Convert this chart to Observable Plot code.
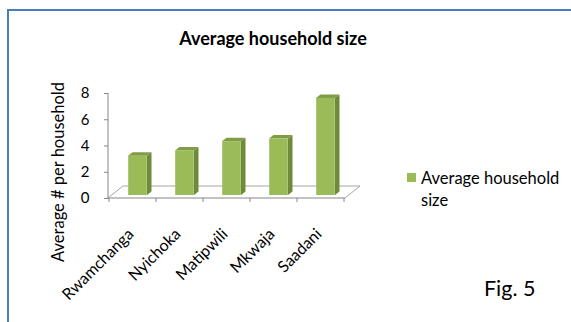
<!DOCTYPE html>
<html><head><meta charset="utf-8">
<script src="https://cdn.jsdelivr.net/npm/d3@7"></script>
<script src="https://cdn.jsdelivr.net/npm/@observablehq/plot@0.6"></script>
<style>
body{margin:0;background:#fff;}
#wrap{position:relative;width:571px;height:322px;overflow:hidden;font-family:Lato,sans-serif;color:#000;}
#frame{position:absolute;left:7px;top:9px;width:700px;height:500px;border-top:2px solid #4a7ebb;border-left:2px solid #4a7ebb;}
#title{position:absolute;left:0;width:546px;top:28px;text-align:center;font-weight:bold;font-size:18px;line-height:20px;}
#chart{position:absolute;left:0;top:0;}
#legend{position:absolute;left:407px;top:167px;font-size:16.5px;line-height:22px;}
#legend .sw{position:absolute;left:0;top:6px;width:9px;height:9px;}
#legend .txt{position:absolute;left:14px;top:0;white-space:nowrap;}
#fig{position:absolute;left:484px;top:277px;font-size:21.5px;line-height:22px;}
</style></head>
<body>
<div id="wrap">
  <div id="frame"></div>
  <div id="title"></div>
  <div id="chart"></div>
  <div id="legend"><div class="sw"></div><div class="txt"></div></div>
  <div id="fig"></div>
</div>
<script>
const categories = ["Rwamchanga", "Nyichoka", "Matipwili", "Mkwaja", "Saadani"];
const values = [3.0, 3.4, 4.1, 4.3, 7.4];
const yTicks = [0, 2, 4, 6, 8];
const seriesName = "Average household size";
const chartTitle = "Average household size";
const yLabel = "Average # per household";
const figLabel = "Fig. 5";

const data = categories.map((c, i) => ({category: c, value: values[i]}));

const W = 571, H = 322;
const mL = 108, mR = 226, mT = 93, mB = 124;
const barW = 19, barDx = 5, barDy = -3, depthX = 4.5, depthY = -3.5;
const floorDx = 15, floorDy = -12;
const cFront = "#9bbb59", cSide = "#6f8a3b", cTop = "#7f9d47";
const bandW = (W - mL - mR) / categories.length;
const inset = (bandW - barW) / 2;

function floorMark(index, scales) {
  const x = scales.x, y = scales.y;
  const g = d3.create("svg:g");
  const [x0, x1] = x.range();
  const y0 = y(0);
  g.append("path")
    .attr("d", `M${x0},${y0}L${x0 + floorDx},${y0 + floorDy}L${x1 + floorDx},${y0 + floorDy}L${x1},${y0}`)
    .attr("fill", "none").attr("stroke", "#a6a6a6");
  g.append("line").attr("x1", x0).attr("x2", x1).attr("y1", y0).attr("y2", y0).attr("stroke", "#868686");
  g.append("line").attr("x1", x0).attr("x2", x0).attr("y1", y(yTicks[yTicks.length - 1])).attr("y2", y0).attr("stroke", "#868686");
  const bw = x.bandwidth();
  const edges = categories.map(c => x(c)).concat([x(categories[categories.length - 1]) + bw]);
  for (const e of edges) {
    g.append("line").attr("x1", e).attr("x2", e).attr("y1", y0).attr("y2", y0 + 4).attr("stroke", "#868686");
  }
  return g.node();
}

function depthMark(index, scales) {
  const x = scales.x, y = scales.y;
  const g = d3.create("svg:g");
  const bw = x.bandwidth();
  for (const d of data) {
    const bx0 = x(d.category) + (bw - barW) / 2 + barDx;
    const bx1 = bx0 + barW;
    const yt = y(d.value) + barDy;
    const yb = y(0) + barDy;
    g.append("path")
      .attr("d", `M${bx0},${yt}L${bx0 + depthX},${yt + depthY}L${bx1 + depthX},${yt + depthY}L${bx1},${yt}Z`)
      .attr("fill", cTop);
    g.append("path")
      .attr("d", `M${bx1},${yt}L${bx1 + depthX},${yt + depthY}L${bx1 + depthX},${yb + depthY}L${bx1},${yb}Z`)
      .attr("fill", cSide);
  }
  return g.node();
}

const chart = Plot.plot({
  width: W, height: H,
  marginLeft: mL, marginRight: mR, marginTop: mT, marginBottom: mB,
  style: {fontFamily: "Lato, sans-serif", fontSize: "15px", color: "#000", background: "transparent"},
  x: {domain: categories, padding: 0, axis: null},
  y: {domain: [0, 8], axis: null},
  marks: [
    floorMark,
    depthMark,
    Plot.barY(data, {x: "category", y: "value", fill: cFront, insetLeft: inset, insetRight: inset, dx: barDx, dy: barDy}),
    Plot.axisY(yTicks, {tickSize: 4, tickPadding: 15, fontSize: 15, label: null, stroke: "#868686", fill: "#000"}),
    Plot.text(categories, {x: d => d, frameAnchor: "bottom", rotate: -45, textAnchor: "end", lineAnchor: "middle", dx: -2, dy: 33, fontSize: 16, fill: "#000"}),
    Plot.text([yLabel], {frameAnchor: "left", rotate: -90, textAnchor: "middle", dx: -50, dy: 26, fontSize: 16.5, fill: "#000"})
  ]
});
document.getElementById("chart").appendChild(chart);
document.getElementById("title").textContent = chartTitle;
document.querySelector("#legend .sw").style.background = cFront;
document.querySelector("#legend .txt").innerHTML = "Average household<br>size";
document.getElementById("fig").textContent = figLabel;
</script>
</body></html>
